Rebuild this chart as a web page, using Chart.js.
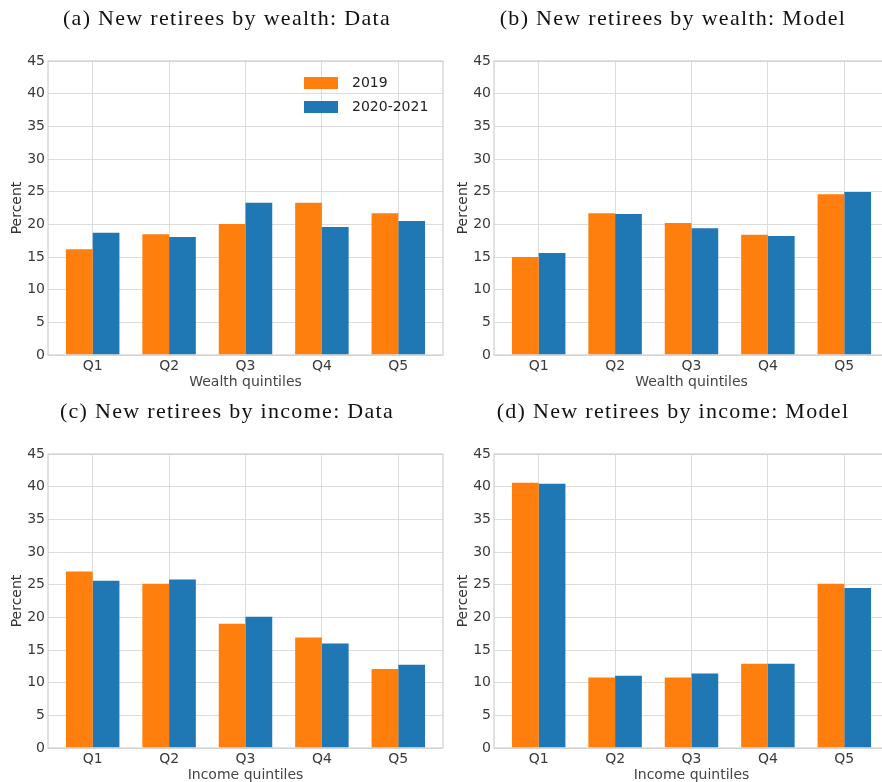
<!DOCTYPE html>
<html>
<head>
<meta charset="utf-8">
<script src="https://cdn.jsdelivr.net/npm/chart.js@4.4.1/dist/chart.umd.min.js"></script>
<style>
  html, body { margin: 0; padding: 0; background: #fff; }
  body { width: 882px; height: 782px; overflow: hidden; position: relative; }
  .panel { position: absolute; width: 446px; height: 391px; }
  .panel canvas { position: absolute; left: 0; top: 0; }
  .ttl {
    position: absolute; left: 4px; top: 6px; width: 446px;
    text-align: center; white-space: nowrap;
    font-family: "Liberation Serif", serif; font-size: 22px; line-height: 24px;
    letter-spacing: 1.3px; color: #111;
  }
</style>
</head>
<body>
<div class="panel" style="left:0;top:0"><canvas id="chartA" width="446" height="391"></canvas><div class="ttl" id="titleA"></div></div>
<div class="panel" style="left:446px;top:0"><canvas id="chartB" width="446" height="391"></canvas><div class="ttl" id="titleB"></div></div>
<div class="panel" style="left:0;top:393px"><canvas id="chartC" width="446" height="391"></canvas><div class="ttl" id="titleC"></div></div>
<div class="panel" style="left:446px;top:393px"><canvas id="chartD" width="446" height="391"></canvas><div class="ttl" id="titleD"></div></div>

<script>
// --- data ---
const quintiles = ['Q1', 'Q2', 'Q3', 'Q4', 'Q5'];
const seriesNames = ['2019', '2020-2021'];
const yTicks = [0, 5, 10, 15, 20, 25, 30, 35, 40, 45];

const wealthData2019 = [16.2, 18.5, 20.05, 23.3, 21.7];
const wealthData2021 = [18.7, 18.05, 23.3, 19.6, 20.5];
const wealthModel2019 = [15.0, 21.7, 20.2, 18.4, 24.6];
const wealthModel2021 = [15.6, 21.6, 19.4, 18.2, 24.95];
const incomeData2019 = [27.0, 25.15, 19.0, 16.9, 12.1];
const incomeData2021 = [25.6, 25.8, 20.1, 16.0, 12.75];
const incomeModel2019 = [40.6, 10.8, 10.8, 12.9, 25.15];
const incomeModel2021 = [40.45, 11.05, 11.4, 12.9, 24.5];

const panelTitles = [
    '(a) New retirees by wealth: Data',
    '(b) New retirees by wealth: Model',
    '(c) New retirees by income: Data',
    '(d) New retirees by income: Model'
];

const ORANGE = '#ff7f0e';
const BLUE = '#1f77b4';
const GRID = '#dcdcdc';
const TEXT = '#3a3a3a';

Chart.defaults.font.family = '"DejaVu Sans", sans-serif';
Chart.defaults.font.size = 14;
Chart.defaults.color = TEXT;

// frame around the plot area (matplotlib spines)
const framePlugin = {
    id: 'frame',
    afterDraw(chart) {
        const { ctx, chartArea: a } = chart;
        ctx.save();
        ctx.strokeStyle = '#cfcfcf';
        ctx.lineWidth = 1.2;
        ctx.strokeRect(a.left, a.top, a.right - a.left, a.bottom - a.top);
        ctx.restore();
    }
};

// legend drawn inside the plot area, top right
const innerLegend = {
    id: 'innerLegend',
    afterDraw(chart, args, opts) {
        if (!opts.show) return;
        const { ctx, chartArea: a } = chart;
        ctx.save();
        ctx.font = '14px "DejaVu Sans"';
        ctx.textBaseline = 'middle';
        chart.data.datasets.forEach((ds, i) => {
            const x = a.left + 256;
            const y = a.top + 16 + i * 24;
            ctx.fillStyle = ds.backgroundColor;
            ctx.fillRect(x, y, 34, 12);
            ctx.fillStyle = '#222';
            ctx.fillText(ds.label, x + 48, y + 6.5);
        });
        ctx.restore();
    }
};

function toPoints(values) {
    return values.map((v, i) => ({ x: i, y: v }));
}

function makeChart(canvasId, vals2019, vals2021, xTitle, showLegend) {
    const ctx = document.getElementById(canvasId).getContext('2d');
    return new Chart(ctx, {
        type: 'bar',
        data: {
            datasets: [
                { label: seriesNames[0], data: toPoints(vals2019), backgroundColor: ORANGE,
                  categoryPercentage: 0.7, barPercentage: 1.0, borderWidth: 0 },
                { label: seriesNames[1], data: toPoints(vals2021), backgroundColor: BLUE,
                  categoryPercentage: 0.7, barPercentage: 1.0, borderWidth: 0 }
            ]
        },
        options: {
            responsive: false,
            animation: false,
            devicePixelRatio: 1,
            layout: { padding: { left: 0, right: 3, top: 61, bottom: 0 } },
            plugins: {
                legend: { display: false },
                tooltip: { enabled: false },
                innerLegend: { show: showLegend }
            },
            scales: {
                x: {
                    type: 'linear',
                    min: -0.585,
                    max: 4.585,
                    offset: false,
                    afterBuildTicks: (s) => { s.ticks = quintiles.map((q, i) => ({ value: i })); },
                    afterFit: (s) => { s.height = 36; },
                    ticks: { callback: (v) => quintiles[v], padding: 3, color: TEXT, maxRotation: 0 },
                    grid: { color: GRID, lineWidth: 1, drawTicks: false, offset: false },
                    border: { display: false },
                    title: { display: true, text: xTitle, color: '#444', padding: { top: 0, bottom: 0 } }
                },
                y: {
                    min: 0,
                    max: 45,
                    afterBuildTicks: (s) => { s.ticks = yTicks.map(v => ({ value: v })); },
                    afterFit: (s) => { s.width = 48; },
                    ticks: { padding: 3, color: TEXT },
                    grid: { color: GRID, lineWidth: 1, drawTicks: false },
                    border: { display: false },
                    title: { display: true, text: 'Percent', color: '#333', padding: { top: 9, bottom: 0 } }
                }
            }
        },
        plugins: [framePlugin, innerLegend]
    });
}

['titleA', 'titleB', 'titleC', 'titleD'].forEach((id, i) => {
    document.getElementById(id).textContent = panelTitles[i];
});

makeChart('chartA', wealthData2019, wealthData2021, 'Wealth quintiles', true);
makeChart('chartB', wealthModel2019, wealthModel2021, 'Wealth quintiles', false);
makeChart('chartC', incomeData2019, incomeData2021, 'Income quintiles', false);
makeChart('chartD', incomeModel2019, incomeModel2021, 'Income quintiles', false);
</script>
</body>
</html>
